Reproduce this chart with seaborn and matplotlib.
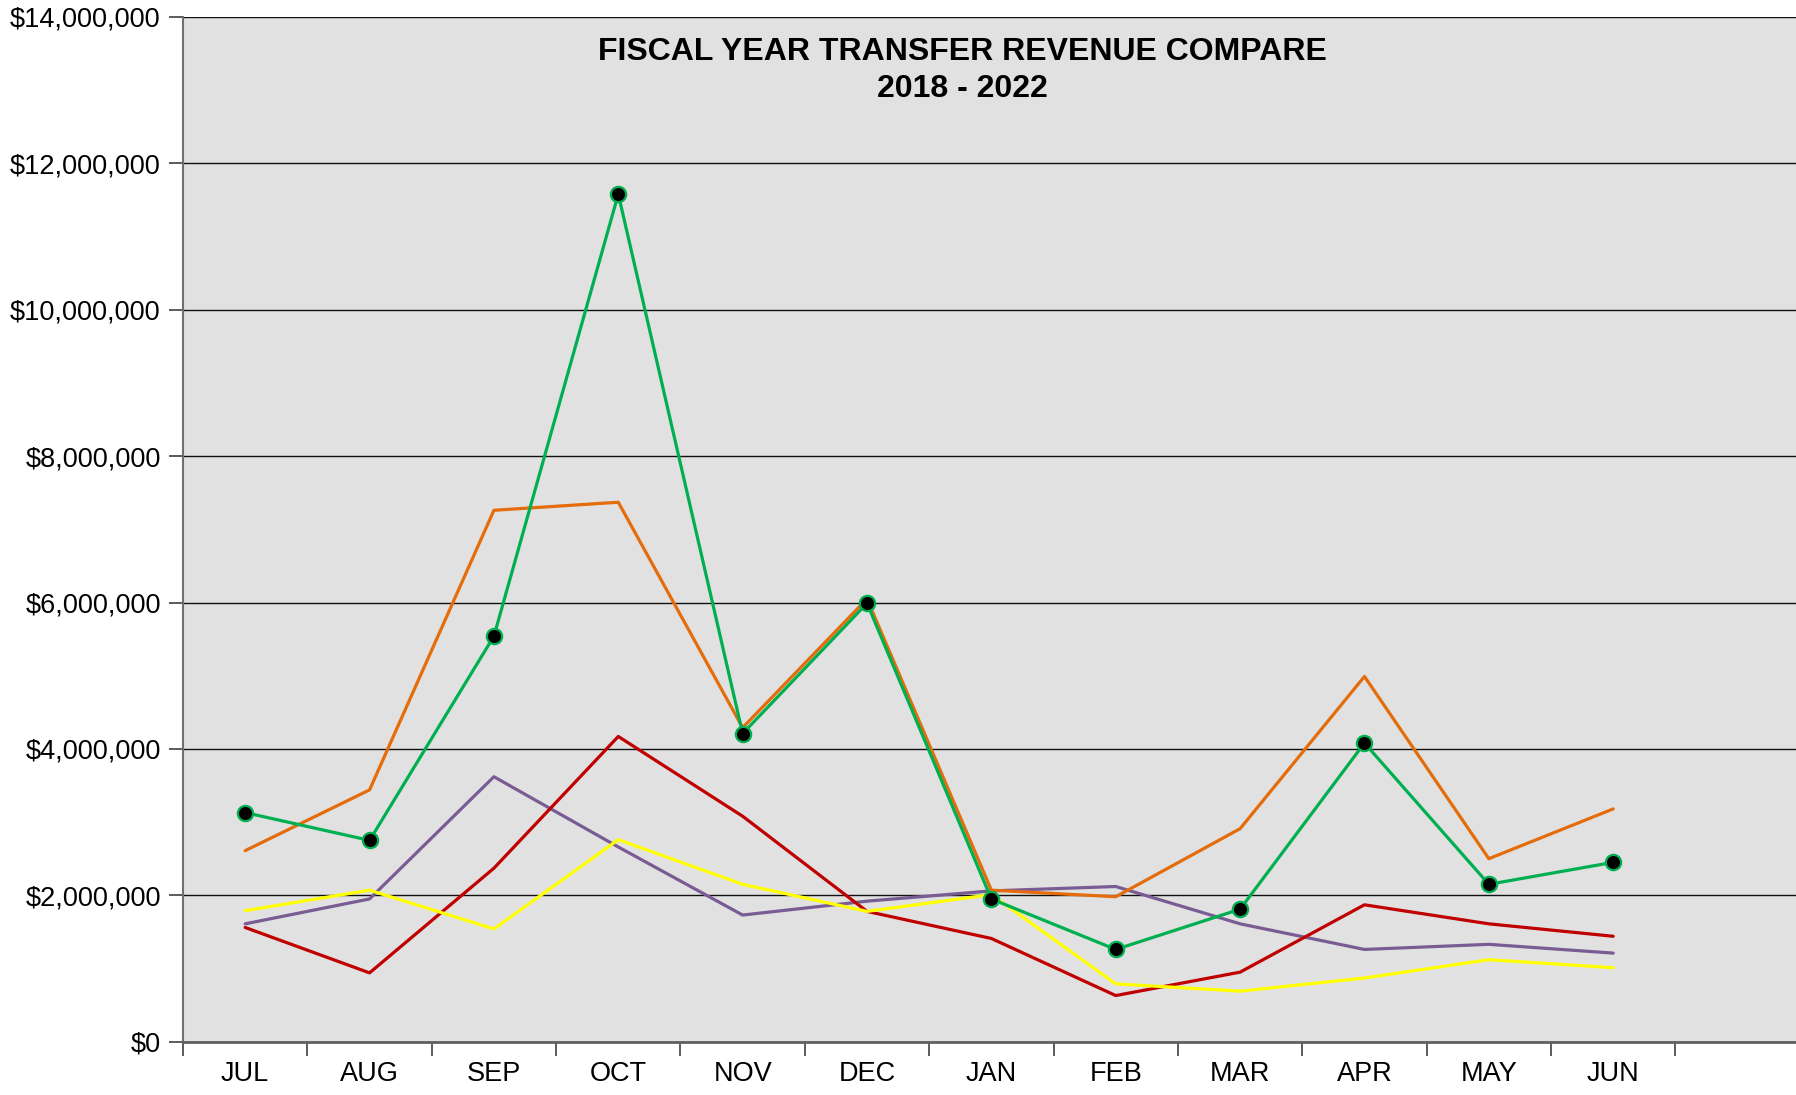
import numpy as np
import pandas as pd
import matplotlib
matplotlib.use("Agg")
import matplotlib.pyplot as plt
from matplotlib.ticker import FuncFormatter, FixedLocator
import seaborn as sns

months = ["JUL", "AUG", "SEP", "OCT", "NOV", "DEC", "JAN", "FEB", "MAR", "APR", "MAY", "JUN"]

fy_a = [1.61, 1.95, 3.62, 2.66, 1.73, 1.92, 2.06, 2.12, 1.61, 1.26, 1.33, 1.21]   # purple
fy_b = [1.56, 0.94, 2.37, 4.17, 3.08, 1.78, 1.41, 0.63, 0.95, 1.87, 1.61, 1.44]   # red
fy_c = [1.79, 2.07, 1.54, 2.76, 2.15, 1.78, 2.01, 0.79, 0.69, 0.87, 1.12, 1.01]   # yellow
fy_d = [2.61, 3.44, 7.26, 7.37, 4.29, 6.05, 2.07, 1.98, 2.91, 4.99, 2.50, 3.18]   # orange
fy_e = [3.13, 2.75, 5.54, 11.58, 4.21, 5.99, 1.95, 1.26, 1.81, 4.08, 2.15, 2.45]  # green

series = [
    ("FY A", fy_a, "#7A5C94", False),
    ("FY B", fy_b, "#C00000", False),
    ("FY C", fy_c, "#FFFF00", False),
    ("FY D", fy_d, "#E46C0A", False),
    ("FY E", fy_e, "#00B050", True),
]

sns.set_theme(style="white")
plt.rcParams['font.family'] = ['Liberation Sans', 'DejaVu Sans']
plt.rcParams['text.color'] = 'black'
plt.rcParams['xtick.color'] = 'black'
plt.rcParams['ytick.color'] = 'black'

fig = plt.figure(figsize=(17.96, 10.95), dpi=100)
ax = fig.add_axes([0.1019, 0.0487, 0.8981, 0.9358])
ax.set_facecolor("#E1E1E1")

x = np.arange(len(months))
for name, vals, color, marker in series:
    df = pd.DataFrame({"month": x, "value": np.array(vals) * 1e6})
    if marker:
        sns.lineplot(data=df, x="month", y="value", ax=ax, color=color, linewidth=2.3,
                     marker="o", markersize=11, markerfacecolor="black",
                     markeredgecolor=color, markeredgewidth=1.6, zorder=5)
    else:
        sns.lineplot(data=df, x="month", y="value", ax=ax, color=color, linewidth=2.3, zorder=3)

ax.set_xlim(-0.5, 12.47)
ax.set_ylim(0, 14e6)
ax.set_yticks(np.arange(0, 14e6 + 1, 2e6))
ax.yaxis.set_major_formatter(FuncFormatter(lambda v, p: f"${v:,.0f}"))
ax.grid(axis="y", color="#111111", linewidth=1.0, zorder=1)
ax.set_axisbelow(True)

ax.xaxis.set_major_locator(FixedLocator(np.arange(-0.5, 12.0, 1.0)))
ax.xaxis.set_major_formatter(FuncFormatter(lambda v, p: ""))
ax.xaxis.set_minor_locator(FixedLocator(x))
ax.set_xticklabels(months, minor=True)

ax.tick_params(axis="x", which="major", direction="out", length=10, width=1.2, color="#404040", bottom=True)
ax.tick_params(axis="x", which="minor", length=0, labelsize=19.5, pad=14, bottom=True, labelcolor="black")
ax.tick_params(axis="y", which="major", direction="out", length=10, width=1.2, color="#404040",
               labelsize=19.5, pad=6, left=True, labelcolor="black")
ax.set_xlabel("")
ax.set_ylabel("")

for s in ["top", "right"]:
    ax.spines[s].set_visible(False)
ax.spines["left"].set_color("#707070")
ax.spines["left"].set_linewidth(1.5)
ax.spines["bottom"].set_color("#606060")
ax.spines["bottom"].set_linewidth(2.0)

ax.text(0.483, 0.980, "FISCAL YEAR TRANSFER REVENUE COMPARE\n2018 - 2022", transform=ax.transAxes,
        ha="center", va="top", fontsize=23, fontweight="bold", linespacing=1.3, color="black")

fig.savefig("out.png", dpi=100)
